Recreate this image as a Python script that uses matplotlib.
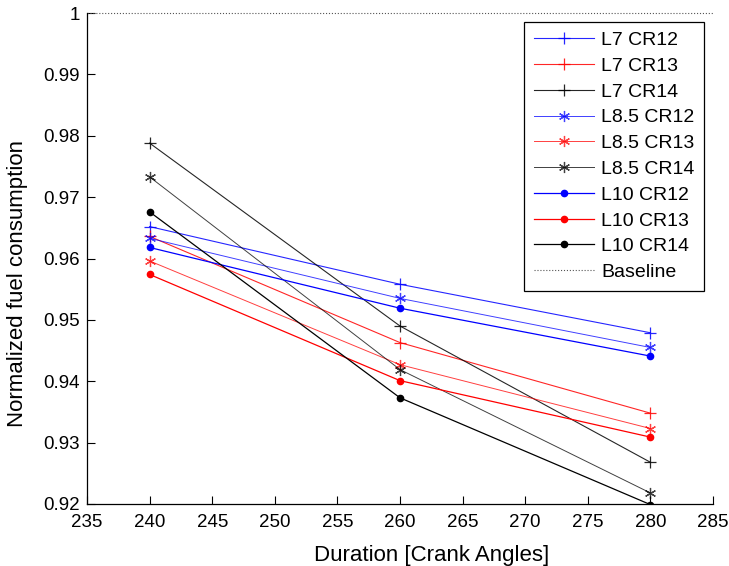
import matplotlib
matplotlib.use('Agg')
import matplotlib.pyplot as plt

plt.rcParams['font.family'] = ['Liberation Sans', 'DejaVu Sans']

duration = [240, 260, 280]

l7_cr12 = [0.9652, 0.9558, 0.9479]
l7_cr13 = [0.9636, 0.9463, 0.9348]
l7_cr14 = [0.9788, 0.9490, 0.9268]
l85_cr12 = [0.9633, 0.9535, 0.9455]
l85_cr13 = [0.9596, 0.9427, 0.9323]
l85_cr14 = [0.9733, 0.9419, 0.9218]
l10_cr12 = [0.9618, 0.9519, 0.9441]
l10_cr13 = [0.9574, 0.9401, 0.9309]
l10_cr14 = [0.9676, 0.9373, 0.9199]
baseline_x = [235, 285]
baseline_y = [1, 1]

series = [
    ('L7 CR12', l7_cr12, 'blue', '+'),
    ('L7 CR13', l7_cr13, 'red', '+'),
    ('L7 CR14', l7_cr14, 'black', '+'),
    ('L8.5 CR12', l85_cr12, 'blue', (6, 2, 0)),
    ('L8.5 CR13', l85_cr13, 'red', (6, 2, 0)),
    ('L8.5 CR14', l85_cr14, 'black', (6, 2, 0)),
    ('L10 CR12', l10_cr12, 'blue', 'o'),
    ('L10 CR13', l10_cr13, 'red', 'o'),
    ('L10 CR14', l10_cr14, 'black', 'o'),
]

fig = plt.figure(figsize=(7.29, 5.66), dpi=100)
ax = fig.add_axes([87 / 729, 1 - 504 / 566, 626 / 729, 491 / 566])

for name, vals, col, mk in series:
    if mk == 'o':
        ax.plot(duration, vals, color=col, lw=0.9, marker='o', markersize=4.5,
                label=name)
    elif mk == '+':
        ax.plot(duration, vals, color=col, lw=0.8, alpha=0.85, marker='+',
                markersize=9, markeredgewidth=0.9, label=name)
    else:
        ax.plot(duration, vals, color=col, lw=0.7, alpha=0.75, marker=mk,
                markersize=8, markeredgewidth=0.9, label=name)

ax.plot(baseline_x, baseline_y, color='#555555', lw=0.8, ls=':',
        clip_on=False, label='Baseline')

ax.set_xlim(235, 285)
ax.set_ylim(0.92, 1.0)
ax.set_xticks(range(235, 290, 5))
ax.set_yticks([0.92, 0.93, 0.94, 0.95, 0.96, 0.97, 0.98, 0.99, 1.0])
ax.set_yticklabels(['0.92', '0.93', '0.94', '0.95', '0.96', '0.97', '0.98', '0.99', '1'])
ax.tick_params(direction='in', labelsize=13.5, length=5.5, width=0.8)
ax.tick_params(axis='y', pad=5)
ax.tick_params(axis='x', pad=7)
ax.spines['top'].set_visible(False)
ax.spines['right'].set_visible(False)
for s in ['left', 'bottom']:
    ax.spines[s].set_linewidth(0.9)

ax.set_xlabel('Duration [Crank Angles]', fontsize=16)
ax.xaxis.set_label_coords(0.55, -0.083)
ax.set_ylabel('Normalized fuel consumption', fontsize=16)
ax.yaxis.set_label_coords(-0.094, 0.45)

leg = ax.legend(loc='upper right', fontsize=14, fancybox=False, framealpha=1,
                edgecolor='black', handlelength=3.1, handletextpad=0.35,
                labelspacing=0.42, borderpad=0.5, borderaxespad=0.45,
                numpoints=1)
leg.get_frame().set_linewidth(0.9)

fig.savefig('out.png', dpi=100)
